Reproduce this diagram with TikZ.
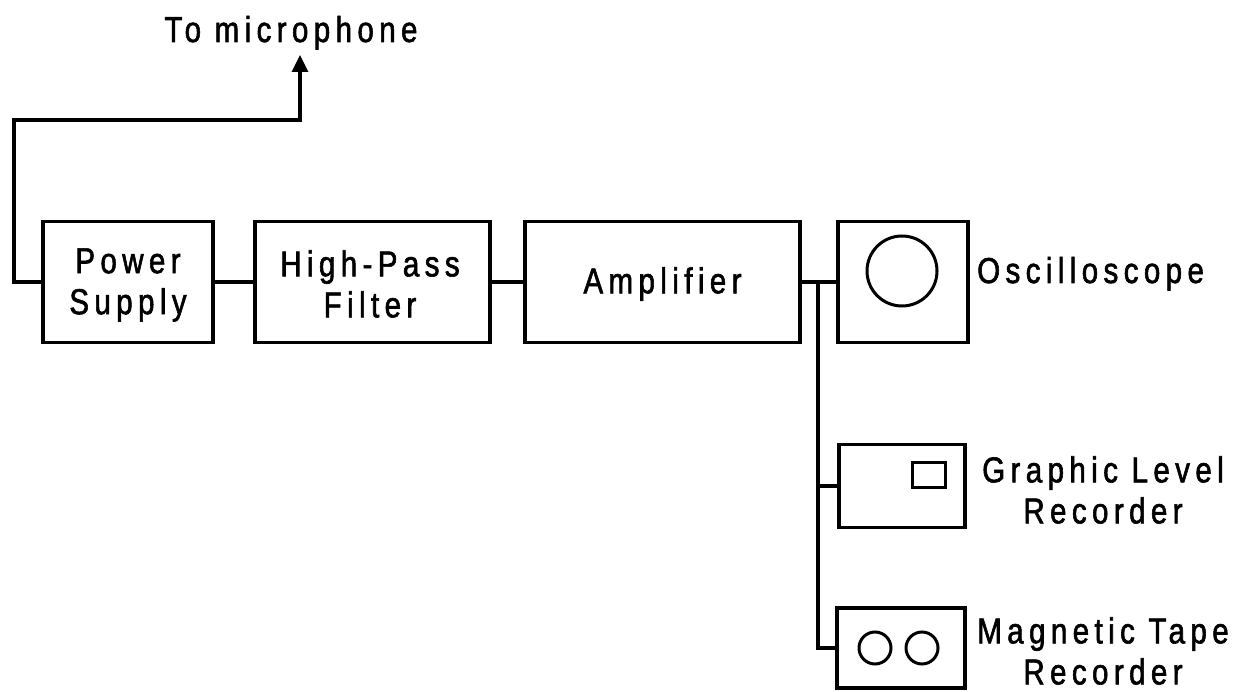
\documentclass[tikz,border=0pt]{standalone}
\usepackage{fontspec}
\setmainfont[FakeStretch=0.82,LetterSpace=15,FakeBold=1.6]{Liberation Sans}
\usetikzlibrary{arrows.meta}
\newcommand{\lblfont}{\fontsize{36}{41}\selectfont}
\begin{document}
\begin{tikzpicture}[x=1pt,y=-1pt,
  box/.style={draw, line width=3.4pt, inner sep=0pt},
  lbl/.style={inner sep=0pt, align=center, font=\lblfont},
  wire/.style={line width=3.2pt},
  deco/.style={draw, line width=3pt, inner sep=0pt}]
\useasboundingbox[fill=white] (0,0) rectangle (1242,692);
% main boxes
\node[box, minimum width=170pt, minimum height=121pt] (ps) at (128,282) {};
\node[box, minimum width=235pt, minimum height=121pt] (hp) at (372.5,282) {};
\node[box, minimum width=275pt, minimum height=121pt] (amp) at (662.5,282) {};
\node[box, minimum width=130pt, minimum height=121pt] (osc) at (903,282) {};
\node[box, minimum width=126pt, minimum height=83pt] (glr) at (902,486) {};
\node[box, minimum width=128pt, minimum height=80pt] (mtr) at (901,648) {};
% box texts
\node[lbl] (pstxt) at (128,285) {Power\\Supply};
\node[lbl] (hptxt) at (370,284) {High-Pass\\Filter};
\node[lbl] (amptxt) at (662.5,284) {Amplifier};
% inner symbols
\node[deco, circle, minimum size=70pt] (scr) at (902,271) {};
\node[deco, rectangle, minimum width=33pt, minimum height=25pt] (pen) at (928.5,474.5) {};
\node[deco, circle, minimum size=32pt] (reel1) at (875,648) {};
\node[deco, circle, minimum size=32pt] (reel2) at (922,648) {};
% labels
\node[lbl, anchor=base] (mic) at (291,42) {To microphone};
\node[lbl, anchor=base west] (osclbl) at (977,283) {Oscilloscope};
\node[lbl] (glrlbl) at (1103,490) {Graphic Level\\Recorder};
\node[lbl] (mtrlbl) at (1103,651) {Magnetic Tape\\Recorder};
% connectors
\coordinate (tip) at (300,55);
\coordinate (lw) at (14,120);
\coordinate (j1) at (818,282);
\coordinate (j2) at (818,486);
\coordinate (j3) at (818,648);
\draw[wire, -{Triangle[length=17pt,width=16pt]}] (ps.west) -| (lw) -| (tip);
\draw[wire] (ps.east) -- (hp.west);
\draw[wire] (hp.east) -- (amp.west);
\draw[wire] (amp.east) -- (osc.west);
\draw[wire] (j1) -- (j3) -- (mtr.west);
\draw[wire] (j2) -- (glr.west);
\end{tikzpicture}
\end{document}
